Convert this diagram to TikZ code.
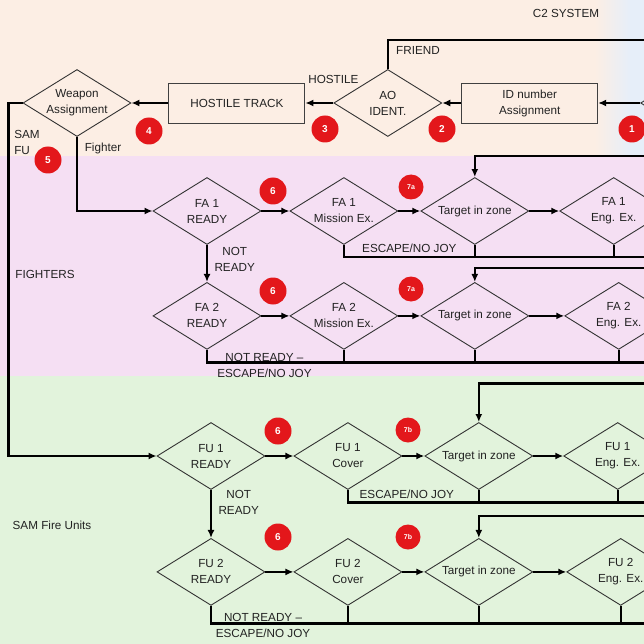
\documentclass[tikz,border=0pt]{standalone}
\usepackage{fontspec}
\setmainfont{Liberation Sans}
\usepackage{xcolor}
\usepackage{tikz}
\usetikzlibrary{positioning,shapes.geometric,arrows.meta}

\definecolor{peachbg}{HTML}{FCEEE4}
\definecolor{bluebg}{HTML}{E6EEF9}
\definecolor{pinkbg}{HTML}{F5DFF3}
\definecolor{greenbg}{HTML}{E2F3DC}
\definecolor{badgered}{HTML}{E3171B}
\definecolor{inkgray}{HTML}{222222}

\begin{document}
\begin{tikzpicture}[x=1pt, y=-1pt, >={Latex[length=8pt,width=7pt]},
 decision/.style={diamond, aspect=1.6, draw=black!80, line width=0.9pt, inner sep=0pt, minimum width=108pt, minimum height=67pt, align=center},
 stepbox/.style={rectangle, draw=black!75, line width=0.9pt, minimum width=136pt, minimum height=40pt, align=center},
 badge/.style={circle, fill=badgered, text=white, inner sep=0pt, minimum size=27pt, font=\fontsize{10}{12}\selectfont\bfseries},
 minibadge/.style={badge, minimum size=25pt, font=\fontsize{7}{8}\selectfont\bfseries},
 flow/.style={line width=2.4pt, black}]

\tikzstyle{every node}=[font=\fontsize{11.7}{16}\selectfont, text=inkgray]

%Background
\useasboundingbox (0,0) rectangle (644,644);
\clip (0,0) rectangle (644,644);
\fill[peachbg] (0,0) rectangle (644,156);
\shade[left color=peachbg, right color=bluebg] (595,0) rectangle (630,156);
\fill[bluebg] (630,0) rectangle (644,156);
\fill[pinkbg] (0,156) rectangle (644,376);
\fill[greenbg] (0,376) rectangle (644,644);

%Nodes
\node[decision]  (weapon)  at (77,103) {Weapon\\Assignment};
\node[stepbox]   (hostile) [right=37pt of weapon] {HOSTILE TRACK};
\node[decision]  (aoid)    [right=28pt of hostile] {AO\\IDENT.};
\node[stepbox]   (idnum)   [right=19pt of aoid] {ID number\\Assignment};
\node[decision]  (track)   [right=42pt of idnum] {};

\node[decision]  (fa1ready) at (207,211) {FA 1\\READY};
\node[decision]  (fa1miss)  [right=28pt of fa1ready] {FA 1\\Mission Ex.};
\node[decision]  (fa1zone)  [right=22pt of fa1miss] {Target in zone};
\node[decision]  (fa1eng)   [right=30pt of fa1zone] {FA 1\\Eng. Ex.};
\node[decision]  (fa2ready) [below=37pt of fa1ready] {FA 2\\READY};
\node[decision]  (fa2miss)  [right=28pt of fa2ready] {FA 2\\Mission Ex.};
\node[decision]  (fa2zone)  [right=22pt of fa2miss] {Target in zone};
\node[decision]  (fa2eng)   [right=35pt of fa2zone] {FA 2\\Eng. Ex.};

\node[decision]  (fu1ready) at (211,456) {FU 1\\READY};
\node[decision]  (fu1cover) [right=28pt of fu1ready] {FU 1\\Cover};
\node[decision]  (fu1zone)  [right=22pt of fu1cover] {Target in zone};
\node[decision]  (fu1eng)   [right=30pt of fu1zone] {FU 1\\Eng. Ex.};
\node[decision]  (fu2ready) [below=48pt of fu1ready] {FU 2\\READY};
\node[decision]  (fu2cover) [right=28pt of fu2ready] {FU 2\\Cover};
\node[decision]  (fu2zone)  [right=22pt of fu2cover] {Target in zone};
\node[decision]  (fu2eng)   [right=33pt of fu2zone] {FU 2\\Eng. Ex.};

%Badges
\node[badge] (b1) at (632,129) {1};
\node[badge] (b2) at (442,129) {2};
\node[badge] (b3) at (325,129) {3};
\node[badge] (b4) at (149,131) {4};
\node[badge] (b5) at (48,160) {5};
\node[badge] (b6a) at (273,191) {6};
\node[badge] (b6b) at (273,291) {6};
\node[badge] (b6c) at (278,431) {6};
\node[badge] (b6d) at (278,537) {6};
\node[minibadge] (b7a) at (411,187) {7a};
\node[minibadge] (b7b) at (411,289) {7a};
\node[minibadge] (b7c) at (408,430) {7b};
\node[minibadge] (b7d) at (408,537) {7b};

%Labels
\node (c2sys)    at (566,13)  {C2 SYSTEM};
\node (friend)   at (418,50)  {FRIEND};
\node (fighter)  at (103,148) {Fighter};
\node[align=left] (samfu) at (27,142) {SAM\\FU};
\node (fighters) at (45,274)  {FIGHTERS};
\node (samunits) at (52,525)  {SAM Fire Units};

%Invisible nodes
\node[inner sep=0, minimum size=0] (edge) at (650,0) {}; % invisible node
\node[inner sep=0, minimum size=0, above=29pt of aoid] (friendup) {}; % invisible node
\node[inner sep=0, minimum size=0] (friendend) at (friendup -| edge) {}; % invisible node
\node[inner sep=0, minimum size=0, left=14pt of weapon] (samtop) {}; % invisible node
\node[inner sep=0, minimum size=0] (sambot) at (samtop |- fu1ready) {}; % invisible node
\node[inner sep=0, minimum size=0] (fbend) at (weapon.south |- fa1ready) {}; % invisible node
\node[inner sep=0, minimum size=0, above=21pt of fa1zone] (fa1loop) {}; % invisible node
\node[inner sep=0, minimum size=0, above=13.5pt of fa2zone] (fa2loop) {}; % invisible node
\node[inner sep=0, minimum size=0, above=38.5pt of fu1zone] (fu1loop) {}; % invisible node
\node[inner sep=0, minimum size=0, above=21.5pt of fu2zone] (fu2loop) {}; % invisible node
\node[inner sep=0, minimum size=0, below=12pt of fa1miss] (fa1esc) {}; % invisible node
\node[inner sep=0, minimum size=0, below=12.5pt of fa2ready] (fa2esc) {}; % invisible node
\node[inner sep=0, minimum size=0, below=12.5pt of fu1cover] (fu1esc) {}; % invisible node
\node[inner sep=0, minimum size=0, below=17.5pt of fu2ready] (fu2esc) {}; % invisible node

%Lines C2
\draw[flow,->] (track.west) -- (idnum.east);
\draw[flow,->] (idnum.west) -- (aoid.east);
\draw[flow,->] (aoid.west) -- (hostile.east) node[pos=0, above=15pt] {HOSTILE};
\draw[flow,->] (hostile.west) -- (weapon.east);
\draw[flow] (aoid.north) -- (friendup.center) -- (friendend.center);
\draw[flow,->] (weapon.west) -- (samtop.center) -- (sambot.center) -- (fu1ready.west);
\draw[flow,->] (weapon.south) -- (fbend.center) -- (fa1ready.west);

%Lines fighters
\draw[flow,->] (fa1ready.east) -- (fa1miss.west);
\draw[flow,->] (fa1miss.east) -- (fa1zone.west);
\draw[flow,->] (fa1zone.east) -- (fa1eng.west);
\draw[flow,->] (fa1ready.south) -- (fa2ready.north) node[pos=0.4, right=3pt, align=center] {NOT\\READY};
\draw[flow,->] (fa1loop -| edge) -- (fa1loop.center) -- (fa1zone.north);
\draw[flow] (fa1miss.south) -- (fa1esc.center) -- node[above] {ESCAPE/NO JOY} (fa1esc -| fa1zone) -- (fa1esc -| edge);
\draw[flow] (fa1zone.south) -- (fa1zone.south |- fa1esc);
\draw[flow] (fa1eng.south) -- (fa1eng.south |- fa1esc);

\draw[flow,->] (fa2ready.east) -- (fa2miss.west);
\draw[flow,->] (fa2miss.east) -- (fa2zone.west);
\draw[flow,->] (fa2zone.east) -- (fa2eng.west);
\draw[flow,->] (fa2loop -| edge) -- (fa2loop.center) -- (fa2zone.north);
\draw[flow] (fa2ready.south) -- (fa2esc.center) -- node[pos=0.42, yshift=-3pt, align=center] {NOT READY –\\ESCAPE/NO JOY} (fa2esc -| fa2miss) -- (fa2esc -| edge);
\draw[flow] (fa2miss.south) -- (fa2miss.south |- fa2esc);
\draw[flow] (fa2zone.south) -- (fa2zone.south |- fa2esc);
\draw[flow] (fa2eng.south) -- (fa2eng.south |- fa2esc);

%Lines SAM
\draw[flow,->] (fu1ready.east) -- (fu1cover.west);
\draw[flow,->] (fu1cover.east) -- (fu1zone.west);
\draw[flow,->] (fu1zone.east) -- (fu1eng.west);
\draw[flow,->] (fu1ready.south) -- (fu2ready.north) node[pos=0.25, right=3pt, align=center] {NOT\\READY};
\draw[flow,->] (fu1loop -| edge) -- (fu1loop.center) -- (fu1zone.north);
\draw[flow] (fu1cover.south) -- (fu1esc.center) -- node[pos=0.45, above] {ESCAPE/NO JOY} (fu1esc -| fu1zone) -- (fu1esc -| edge);
\draw[flow] (fu1zone.south) -- (fu1zone.south |- fu1esc);
\draw[flow] (fu1eng.south) -- (fu1eng.south |- fu1esc);

\draw[flow,->] (fu2ready.east) -- (fu2cover.west);
\draw[flow,->] (fu2cover.east) -- (fu2zone.west);
\draw[flow,->] (fu2zone.east) -- (fu2eng.west);
\draw[flow,->] (fu2loop -| edge) -- (fu2loop.center) -- (fu2zone.north);
\draw[flow] (fu2ready.south) -- (fu2esc.center) -- node[pos=0.38, yshift=-2pt, align=center] {NOT READY –\\ESCAPE/NO JOY} (fu2esc -| fu2cover) -- (fu2esc -| edge);
\draw[flow] (fu2cover.south) -- (fu2cover.south |- fu2esc);
\draw[flow] (fu2zone.south) -- (fu2zone.south |- fu2esc);
\draw[flow] (fu2eng.south) -- (fu2eng.south |- fu2esc);

\end{tikzpicture}
\end{document}
